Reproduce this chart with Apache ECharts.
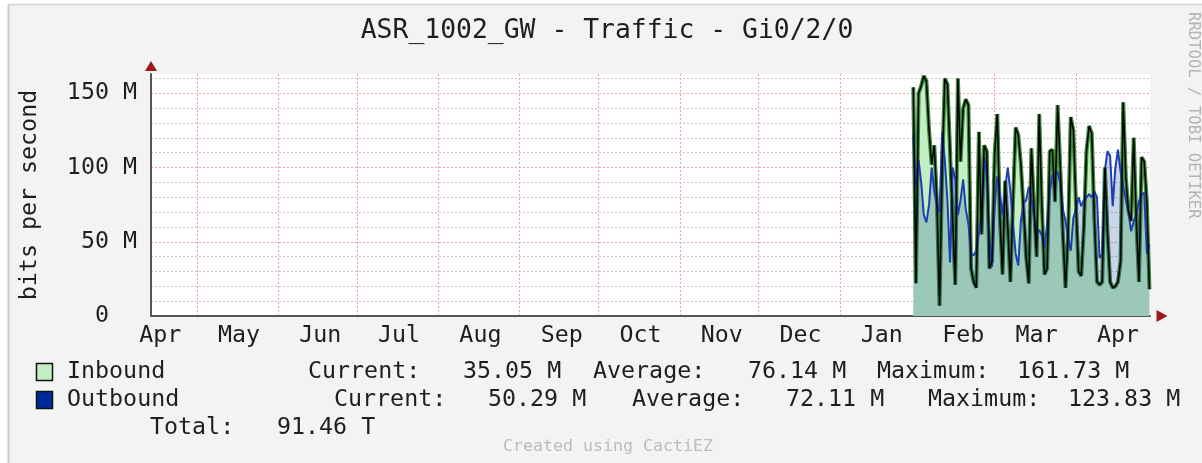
<!DOCTYPE html>
<html><head><meta charset="utf-8">
<script src="https://cdn.jsdelivr.net/npm/echarts@6/dist/echarts.min.js"></script>
<style>html,body{margin:0;padding:0;background:#fff}#c{width:1202px;height:463px}</style>
</head><body><div id="c"></div>
<script>
// ---------- data ----------
const titleText = 'ASR_1002_GW - Traffic - Gi0/2/0';
const yAxisName = 'bits per second';
const sideText = 'RRDTOOL / TOBI OETIKER';
const footerText = 'Created using CactiEZ';
const monthLabels = ['Apr','May','Jun','Jul','Aug','Sep','Oct','Nov','Dec','Jan','Feb','Mar','Apr'];
const monthStarts = ['2013-04-01','2013-05-01','2013-06-01','2013-07-01','2013-08-01','2013-09-01','2013-10-01','2013-11-01','2013-12-01','2014-01-01','2014-02-01','2014-03-01','2014-04-01'];
const axisStart = '2013-04-13T11:00:00Z';
const axisEnd = '2014-04-29T05:00:00Z';
const dataStart = '2014-01-29';          // one value per day from here
const yTickLabels = {0:'0  ', 50:'50 M', 100:'100 M', 150:'150 M'};
// Mbit/s, daily
const inbound = [
  154, 22, 150, 155, 161.7, 158, 125, 102, 115, 77,
  7, 100, 160, 156, 111, 64, 21, 160, 104, 140,
  146, 142, 32, 23, 19, 124, 55, 115, 111, 32,
  37, 109, 136, 66, 28, 91, 60, 23, 77, 127,
  122, 102, 72, 40, 22, 113, 73, 40, 136, 73,
  28, 32, 111, 112, 77, 142, 100, 55, 19, 55,
  134, 125, 75, 30, 27, 60, 111, 128, 123, 66,
  23, 21, 23, 100, 57, 23, 19, 20, 23, 37,
  144, 93, 71, 64, 120, 64, 23, 107, 104, 77,
  18
];
const outbound = [
  122, 88, 105, 90, 68, 63, 75, 100, 84, 74,
  70, 123.8, 105, 78, 36, 100, 92, 68, 78, 92,
  72, 62, 42, 41, 44, 56, 68, 107, 96, 52,
  33, 74, 94, 82, 68, 86, 100, 84, 62, 42,
  34, 64, 76, 78, 87, 80, 68, 57, 58, 54,
  46, 62, 84, 95, 96, 97, 90, 72, 64, 52,
  44, 66, 72, 80, 74, 78, 80, 82, 80, 84,
  80, 39, 42, 98, 111, 108, 74, 100, 112, 97,
  88, 78, 70, 57, 64, 68, 77, 82, 83, 42,
  48
];
const legendNames = ['Inbound', 'Outbound'];
const statLabels = ['Current:', 'Average:', 'Maximum:'];
const inboundStats = ['35.05 M', '76.14 M', '161.73 M'];
const outboundStats = ['50.29 M', '72.11 M', '123.83 M'];
const totalLabel = 'Total:';
const totalValue = '91.46 T';

// ---------- build ----------
const DAY = 86400000;
const FONT = '"DejaVu Sans Mono", monospace';
const ts = s => Date.parse(s.length === 10 ? s + 'T00:00:00Z' : s);
const axisMin = ts(axisStart), axisMax = ts(axisEnd);
const gridTs = monthStarts.map(ts).filter(t => t > axisMin && t < axisMax);
const labelTs = monthStarts.map(s => ts(s) + 16 * DAY);
const t0 = ts(dataStart);
const inData = inbound.map((v, i) => [t0 + i * DAY, v]);
const outData = outbound.map((v, i) => [t0 + i * DAY, v]);

const C_IN_FILL = '#c2f0c2', C_IN_LINE = '#3d8a3d', C_OUT = '#002a97';
const GRAY = '#c6c6c6', RED = '#f2a2a2', AXIS = '#555555', ARROW = '#9c1a1a', TXT = '#1e1e1e';

const graphics = [
  {type:'rect', shape:{x:0,y:0,width:8,height:463}, style:{fill:'#fff'}, silent:true},
  {type:'rect', shape:{x:0,y:0,width:1202,height:4}, style:{fill:'#fff'}, silent:true},
  {type:'line', shape:{x1:8.5,y1:4.5,x2:8.5,y2:463}, style:{stroke:'#cccccc', lineWidth:2}, silent:true},
  {type:'line', shape:{x1:8.5,y1:4.5,x2:1202,y2:4.5}, style:{stroke:'#d4d4d4', lineWidth:1.5}, silent:true},
  {type:'text', x:607, y:31, style:{text:titleText, textAlign:'center', textVerticalAlign:'middle', fill:TXT, font:'26.4px ' + FONT}},
  {type:'text', x:1193, y:12, rotation:-Math.PI/2, style:{text:sideText, textAlign:'left', textVerticalAlign:'middle', fill:'#b4b4b4', font:'15.6px ' + FONT}},
  {type:'text', x:608, y:447, style:{text:footerText, textAlign:'center', textVerticalAlign:'middle', fill:'#bcbcbc', font:'16.6px ' + FONT}}
];
// legend rows
const rowY = [372, 400];
const colX = [[308, 463, 593, 748, 877, 1017], [334, 488, 632, 786, 928, 1068]];
const stats = [inboundStats, outboundStats];
const swatch = [C_IN_FILL, C_OUT];
legendNames.forEach((name, r) => {
  graphics.push({type:'rect', shape:{x:36.5, y:rowY[r]-8.5, width:16, height:17}, style:{fill:swatch[r], stroke:'#111', lineWidth:1.5}});
  graphics.push({type:'text', x:67, y:rowY[r], style:{text:name, textVerticalAlign:'middle', fill:TXT, font:'23.3px ' + FONT}});
  statLabels.forEach((lab, k) => {
    graphics.push({type:'text', x:colX[r][2*k], y:rowY[r], style:{text:lab, textVerticalAlign:'middle', fill:TXT, font:'23.3px ' + FONT}});
    graphics.push({type:'text', x:colX[r][2*k+1], y:rowY[r], style:{text:stats[r][k], textVerticalAlign:'middle', fill:TXT, font:'23.3px ' + FONT}});
  });
});
graphics.push({type:'text', x:150, y:428, style:{text:totalLabel, textVerticalAlign:'middle', fill:TXT, font:'23.3px ' + FONT}});
graphics.push({type:'text', x:277, y:428, style:{text:totalValue, textVerticalAlign:'middle', fill:TXT, font:'23.3px ' + FONT}});

const chart = echarts.init(document.getElementById('c'), null, {renderer:'canvas'});
chart.setOption({
  animation: false,
  backgroundColor: '#f3f3f3',
  textStyle: {fontFamily: FONT},
  grid: {left:151, right:52, top:74, bottom:147, show:true, backgroundColor:'#ffffff', borderWidth:0},
  xAxis: [{
    type:'value', min:axisMin, max:axisMax, scale:true,
    axisLine:{show:true, onZero:false, lineStyle:{color:AXIS, width:2}},
    axisTick:{show:false, customValues:gridTs},
    splitLine:{show:true, lineStyle:{color:RED, type:[2,2], width:1}},
    axisLabel:{customValues:labelTs, margin:8, color:TXT, fontFamily:FONT, fontSize:23.3, hideOverlap:false,
      formatter: v => { const i = labelTs.indexOf(v); return i >= 0 ? monthLabels[i] : ''; }}
  }, {
    type:'value', min:axisMin, max:axisMax, scale:true, position:'bottom',
    axisLine:{show:true, onZero:false, symbol:['none','triangle'], symbolSize:[12,11], symbolOffset:[0,12], lineStyle:{color:ARROW, width:0}},
    axisTick:{show:false}, axisLabel:{show:false}, splitLine:{show:false}
  }],
  yAxis: [{
    type:'value', min:0, max:163, interval:10,
    name:yAxisName, nameLocation:'middle', nameGap:110,
    nameTextStyle:{color:TXT, fontFamily:FONT, fontSize:23.3},
    axisLine:{show:true, onZero:false, lineStyle:{color:AXIS, width:2}},
    axisTick:{show:false},
    axisLabel:{margin:14, color:TXT, fontFamily:FONT, fontSize:23.3,
      formatter: v => (yTickLabels[v] !== undefined ? yTickLabels[v] : '')},
    splitLine:{show:true, showMinLine:false, showMaxLine:false,
      lineStyle:{color:[GRAY, GRAY, GRAY, GRAY, RED], type:[2,2], width:1}}
  }, {
    type:'value', min:0, max:163, position:'left', offset:0,
    axisLine:{show:true, onZero:false, symbol:['none','triangle'], symbolSize:[12,10], symbolOffset:[0,8], lineStyle:{color:ARROW, width:0}},
    axisTick:{show:false}, axisLabel:{show:false}, splitLine:{show:false}
  }],
  series: [{
    name:legendNames[0], type:'line', xAxisIndex:0, yAxisIndex:0, data:inData, symbol:'none',
    lineStyle:{color:C_IN_LINE, width:4}, areaStyle:{color:C_IN_FILL, opacity:1}, z:2
  }, {
    name:legendNames[1], type:'line', xAxisIndex:0, yAxisIndex:0, data:outData, symbol:'none',
    lineStyle:{color:'#1c3fb0', width:2}, areaStyle:{color:'rgba(0,42,151,0.2)', opacity:1}, z:3
  }, {
    name:legendNames[0] + ' edge', type:'line', xAxisIndex:0, yAxisIndex:0, data:inData, symbol:'none',
    lineStyle:{color:'#000', width:1.5}, z:4
  }],
  graphic: graphics
});
</script>
</body></html>
